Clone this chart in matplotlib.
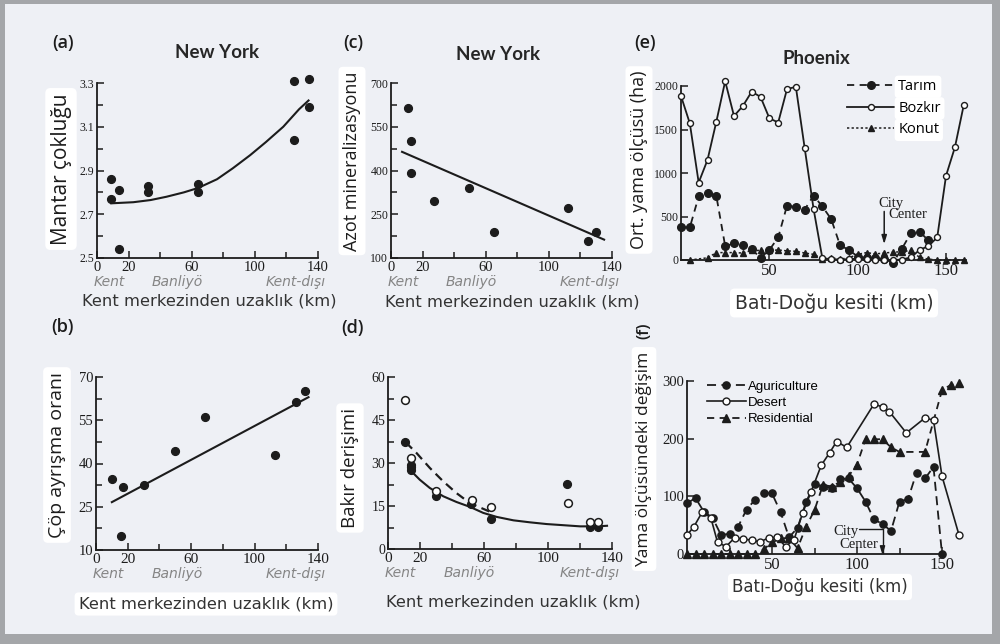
import matplotlib
matplotlib.use('Agg')
import matplotlib.pyplot as plt
from matplotlib.patches import Rectangle
from matplotlib.ticker import FixedLocator, NullFormatter

# ---------------- data ----------------
zone_labels = ['Kent', 'Banliyö', 'Kent-dışı']
zone_pos = [8, 51, 126]
dist_ticks = [0, 20, 60, 100, 140]
dist_minor = [40, 80, 120]
dist_xlabel = 'Kent merkezinden uzaklık (km)'

# (a) Mantar çokluğu
a_x = [9, 9, 14, 14, 32, 32, 64, 64, 125, 134, 134, 125]
a_y = [2.86, 2.77, 2.81, 2.54, 2.83, 2.80, 2.84, 2.80, 3.31, 3.32, 3.19, 3.04]
a_fit_x = [9, 23, 34, 44, 55, 64, 76, 86, 97, 107, 118, 128, 134]
a_fit_y = [2.75, 2.755, 2.765, 2.78, 2.80, 2.82, 2.86, 2.91, 2.97, 3.03, 3.10, 3.18, 3.22]
a_yticks = [2.5, 2.7, 2.9, 3.1, 3.3]
a_yminor = [2.6, 2.8, 3.0, 3.2]

# (b) Çöp ayrışma oranı
b_x = [10, 17, 16, 30, 50, 69, 113, 126, 132]
b_y = [34.7, 31.8, 14.9, 32.5, 44.2, 56.3, 42.9, 61.2, 65.0]
b_fit_x = [10, 134]
b_fit_y = [26.6, 63.0]
b_yticks = [10, 25, 40, 55, 70]
b_yminor = [17.5, 32.5, 47.5, 62.5]

# (c) Azot mineralizasyonu
c_x = [10.6, 12.7, 12.7, 27.5, 49.5, 65.5, 112, 124.7, 130]
c_y = [616, 502, 390, 296, 341, 189, 271, 157, 188]
c_fit_x = [7, 135]
c_fit_y = [464, 163]
c_yticks = [100, 250, 400, 550, 700]
c_yminor = [175, 325, 475, 625]

# (d) Bakır derişimi
d_x_closed = [10.4, 14.2, 14.2, 14.2, 29.9, 51.8, 64.4, 111.8, 126, 131.2]
d_y_closed = [37.2, 29.4, 28.6, 27.7, 18.6, 15.8, 10.5, 22.8, 7.6, 7.6]
d_x_open = [10.4, 14.2, 30.3, 52.2, 64.4, 112.8, 126, 131.2]
d_y_open = [52.1, 31.7, 20.3, 17.2, 14.5, 16.0, 9.3, 9.3]
d_fit_closed_x = [13.6, 19.8, 26.1, 34.5, 42.8, 51.2, 59.5, 67.9, 78.4, 88.8, 99.2, 109.7, 120.1, 130.6, 136.9]
d_fit_closed_y = [27.7, 24.2, 21.3, 18.4, 16.4, 14.7, 12.6, 11.2, 10.0, 9.3, 8.7, 8.3, 7.9, 7.9, 8.1]
d_fit_open_x = [11.1, 17.8, 26.1, 34.5, 42.8, 51.2, 63.3]
d_fit_open_y = [37.2, 33.5, 28.3, 23.6, 19.5, 16.0, 13.1]
d_yticks = [0, 15, 30, 45, 60]
d_yminor = [7.5, 22.5, 37.5, 52.5]

# (e) Phoenix - Ort. yama ölçüsü (ha)
e_tarim_x = [0, 5, 10, 15, 20, 25, 30, 35, 40, 45, 50, 55, 60, 65, 70, 75, 80, 85, 90, 95,
             100, 105, 110, 115, 120, 125, 130, 135, 140]
e_tarim_y = [375, 375, 730, 775, 735, 160, 190, 170, 125, 25, 115, 260, 625, 610, 580, 740, 615,
             470, 170, 115, 40, 25, 20, 10, -30, 130, 305, 325, 225]
e_bozkir_x = [0, 5, 10, 15, 20, 25, 30, 35, 40, 45, 50, 55, 60, 65, 70, 75, 80, 85, 90, 95,
              100, 105, 110, 115, 120, 125, 130, 135, 140, 145, 150, 155, 160]
e_bozkir_y = [1885, 1570, 890, 1150, 1590, 2055, 1655, 1770, 1935, 1875, 1630, 1580, 1965, 1990,
              1285, 590, 20, 10, 5, 10, 15, 10, 5, 0, 0, 5, 30, 115, 160, 260, 970, 1295, 1780]
e_konut_x = [5, 15, 20, 25, 30, 35, 40, 45, 50, 55, 60, 65, 70, 75, 80, 85, 90, 95, 100, 105,
             110, 115, 120, 125, 130, 135, 140, 145, 150, 155, 160]
e_konut_y = [0, 25, 85, 85, 85, 80, 110, 110, 110, 115, 105, 100, 80, 65, 15, 25, 10, 25, 65, 85,
             70, 80, 90, 95, 110, 30, 10, 0, 0, 0, 0]
e_labels = ['Tarım', 'Bozkır', 'Konut']
e_yticks = [0, 500, 1000, 1500, 2000]
e_xticks = [50, 100, 150]

# (f) Phoenix - Yama ölçüsündeki değişim
f_agri_x = [0, 5, 10, 15, 20, 25, 30, 35, 40, 45, 50, 55, 60, 65, 70, 75, 80, 85, 90, 95,
            100, 105, 110, 115, 120, 125, 130, 135, 140, 145, 150]
f_agri_y = [88, 97, 73, 63, 33, 35, 47, 77, 94, 106, 105, 73, 29, 45, 90, 121, 117, 115, 130,
            131, 114, 91, 60, 52, 40, 91, 95, 141, 131, 151, 0]
f_desert_x = [0, 4, 9, 14, 18, 23, 28, 33, 38, 43, 48, 53, 58, 63, 68, 73, 79, 84, 88, 94,
              110, 115, 119, 129, 140, 145, 150, 160]
f_desert_y = [33, 47, 73, 63, 20, 13, 28, 26, 24, 21, 28, 29, 13, 25, 71, 108, 154, 176, 195,
              185, 260, 255, 247, 210, 236, 232, 135, 33]
f_resid_x = [0, 5, 10, 15, 20, 25, 30, 35, 40, 45, 50, 55, 60, 65, 70, 75, 80, 85, 90, 95,
             100, 105, 110, 115, 120, 125, 140, 150, 155, 160]
f_resid_y = [0, 0, 0, 0, 0, 0, 0, 0, 0, 8, 20, 27, 28, 10, 47, 76, 120, 117, 125, 135, 155,
             199, 199, 199, 185, 177, 177, 284, 293, 296]
f_labels = ['Aguriculture', 'Desert', 'Residential']
f_yticks = [0, 100, 200, 300]
f_xticks = [50, 100, 150]
f_xminor = [25, 75, 125]
city_x = 115

# ---------------- figure ----------------
W, H = 1000, 644
fig = plt.figure(figsize=(W / 100, H / 100), dpi=100)
fig.patch.set_facecolor('#a4a6a9')
fig.add_artist(Rectangle((5 / W, (H - 634) / H), 987 / W, 630 / H, transform=fig.transFigure,
                         fc='#eef0f5', ec='none', zorder=-10))

INK = '#1c1c1c'
SANS = 'Open Sans'
TICKF = 'Liberation Serif'
WHITE = dict(boxstyle='round,pad=0.25', fc='white', ec='none')


def add_ax(l, r, t, b):
    ax = fig.add_axes([l / W, 1 - b / H, (r - l) / W, (b - t) / H])
    ax.set_facecolor('none')
    for s in ['top', 'right']:
        ax.spines[s].set_visible(False)
    for s in ['left', 'bottom']:
        ax.spines[s].set_linewidth(1.3)
        ax.spines[s].set_color(INK)
    ax.tick_params(which='both', direction='in', color=INK, width=1.1, pad=2)
    ax.tick_params(which='major', length=5)
    ax.tick_params(which='minor', length=4)
    return ax


def ftext(x, y, s, **kw):
    return fig.text(x / W, 1 - y / H, s, **kw)


def set_ticks(ax, xmaj, xmin, ymaj, ymin, xs, ys):
    ax.xaxis.set_major_locator(FixedLocator(xmaj))
    ax.yaxis.set_major_locator(FixedLocator(ymaj))
    if xmin:
        ax.xaxis.set_minor_locator(FixedLocator(xmin))
    if ymin:
        ax.yaxis.set_minor_locator(FixedLocator(ymin))
    ax.xaxis.set_minor_formatter(NullFormatter())
    ax.yaxis.set_minor_formatter(NullFormatter())
    for lab in ax.get_xticklabels():
        lab.set_fontfamily(TICKF)
        lab.set_fontsize(xs)
        lab.set_color(INK)
    for lab in ax.get_yticklabels():
        lab.set_fontfamily(TICKF)
        lab.set_fontsize(ys)
        lab.set_color(INK)


def zones(ax):
    for lab, p in zip(zone_labels, zone_pos):
        ax.annotate(lab, xy=(p, 0), xycoords=('data', 'axes fraction'), xytext=(0, -17.3),
                    textcoords='offset points', ha='center', va='center', style='italic',
                    color='#858585', fontsize=10, family='DejaVu Sans')


dot = dict(marker='o', ms=5.6, color=INK, ls='none', clip_on=False)

# (a)
ax = add_ax(97, 318, 83, 258)
ax.set_xlim(0, 140)
ax.set_ylim(2.5, 3.3)
ax.plot(a_x, a_y, **dot)
ax.plot(a_fit_x, a_fit_y, color=INK, lw=1.5)
set_ticks(ax, dist_ticks, dist_minor, a_yticks, a_yminor, 10.5, 8.5)
ax.set_yticklabels([f'{v:.1f}' for v in a_yticks])
for lab in ax.get_yticklabels():
    lab.set_fontfamily(TICKF)
    lab.set_fontsize(8.5)
zones(ax)

# (c)
ax = add_ax(391, 612, 83, 258)
ax.set_xlim(0, 140)
ax.set_ylim(100, 700)
ax.plot(c_x, c_y, **dot)
ax.plot(c_fit_x, c_fit_y, color=INK, lw=1.5)
set_ticks(ax, dist_ticks, dist_minor, c_yticks, c_yminor, 10.5, 8.5)
zones(ax)

# (b)
ax = add_ax(96, 318, 377, 550)
ax.set_xlim(0, 140)
ax.set_ylim(10, 70)
ax.plot(b_x, b_y, **dot)
ax.plot(b_fit_x, b_fit_y, color=INK, lw=1.5)
set_ticks(ax, dist_ticks, dist_minor, b_yticks, b_yminor, 11, 10.5)
zones(ax)

# (d)
ax = add_ax(388, 612, 377, 549)
ax.set_xlim(0, 140)
ax.set_ylim(0, 60)
ax.plot(d_fit_closed_x, d_fit_closed_y, color=INK, lw=1.5)
ax.plot(d_fit_open_x, d_fit_open_y, color=INK, lw=1.6, ls=(0, (4, 2.5)))
ax.plot(d_x_closed, d_y_closed, **dot)
ax.plot(d_x_open, d_y_open, marker='o', ms=5.6, mfc='white', mec=INK, mew=1.1, ls='none')
set_ticks(ax, dist_ticks, dist_minor, d_yticks, d_yminor, 11, 10)
zones(ax)

# (e)
ax = add_ax(681, 965.5, 86, 260)
ax.set_xlim(0, 161)
ax.set_ylim(0, 2000)
l1, = ax.plot(e_tarim_x, e_tarim_y, color=INK, lw=1.3, ls=(0, (4, 3)), marker='o', ms=5.5,
              clip_on=False, label=e_labels[0])
l2, = ax.plot(e_bozkir_x, e_bozkir_y, color=INK, lw=1.3, marker='o', ms=4.3, mfc='white',
              mew=1.0, clip_on=False, label=e_labels[1], zorder=3)
l3, = ax.plot(e_konut_x, e_konut_y, color=INK, lw=1.1, ls=(0, (1.5, 1.5)), marker='^', ms=5,
              clip_on=False, label=e_labels[2])
set_ticks(ax, e_xticks, None, e_yticks, None, 12, 8.5)
leg = ax.legend(handles=[l1, l2, l3], loc='upper left', bbox_to_anchor=(840 / W, 1 - 72 / H),
                bbox_transform=fig.transFigure, frameon=False, handlelength=3.2, handletextpad=0.3,
                labelspacing=0.45, borderpad=0, numpoints=1, prop=dict(family=SANS, size=10.5))
for t in leg.get_texts():
    t.set_bbox(WHITE)
ax.annotate('', xy=(city_x, 150), xytext=(city_x, 590),
            arrowprops=dict(arrowstyle='-|>,head_length=0.5,head_width=0.15', color=INK, lw=1.1))
ftext(891, 203, 'City', ha='center', va='center', family=TICKF, fontsize=10.5, color=INK)
ftext(908, 215, 'Center', ha='center', va='center', family=TICKF, fontsize=10.5, color=INK)

# (f)
ax = add_ax(687, 942, 381, 554)
ax.set_xlim(0, 150)
ax.set_ylim(0, 300)
m1, = ax.plot(f_agri_x, f_agri_y, color=INK, lw=1.3, ls=(0, (5, 3)), marker='o', ms=5.2,
              clip_on=False, label=f_labels[0])
m2, = ax.plot(f_desert_x, f_desert_y, color=INK, lw=1.2, marker='o', ms=5, mfc='white', mew=1.0,
              clip_on=False, label=f_labels[1], zorder=3)
m3, = ax.plot(f_resid_x, f_resid_y, color=INK, lw=1.3, ls=(0, (4, 3)), marker='^', ms=5.5,
              clip_on=False, label=f_labels[2])
set_ticks(ax, f_xticks, f_xminor, f_yticks, None, 12, 10.5)
ax.legend(handles=[m1, m2, m3], loc='upper left', bbox_to_anchor=(700 / W, 1 - 374 / H),
          bbox_transform=fig.transFigure, frameon=False, handlelength=3.0, handletextpad=0.1,
          labelspacing=0.3, borderpad=0, numpoints=1, prop=dict(family='Liberation Sans', size=9.5))
ax.annotate('', xy=(city_x, -2), xytext=(101, 43),
            arrowprops=dict(arrowstyle='-|>,head_length=0.5,head_width=0.15', color=INK, lw=1.0,
                            connectionstyle='angle,angleA=0,angleB=90,rad=0', shrinkA=0, shrinkB=0),
            annotation_clip=False)
ftext(846, 531, 'City', ha='center', va='center', family=TICKF, fontsize=10.5, color=INK)
ftext(859, 544, 'Center', ha='center', va='center', family=TICKF, fontsize=10.5, color=INK)

# ---------------- texts ----------------
for x, y, s in [(63, 43, '(a)'), (353, 43, '(c)'), (645, 43, '(e)'), (62, 327, '(b)'), (352, 328, '(d)')]:
    ftext(x, y, s, ha='center', va='center', family=SANS, fontsize=13, weight='semibold', color=INK)
ftext(644, 331, '(f)', ha='center', va='center', family=SANS, fontsize=12, weight='semibold',
      color=INK, rotation=90)

for x, y, s in [(217, 52, 'New York'), (498, 54, 'New York'), (816, 58, 'Phoenix')]:
    ftext(x, y, s, ha='center', va='center', family='Lato', fontsize=13.5, weight='bold', color='#262626')

ylabs = [(61, 169, 'Mantar çokluğu', 15), (57, 455, 'Çöp ayrışma oranı', 14),
         (352, 161, 'Azot mineralizasyonu', 13), (350, 468, 'Bakır derişimi', 13.5),
         (639, 160, 'Ort. yama ölçüsü (ha)', 13), (644, 459, 'Yama ölçüsündeki değişim', 12.5)]
for x, y, s, fs in ylabs:
    ftext(x, y, s, ha='center', va='center', rotation=90, family=SANS, fontsize=fs,
          weight='medium', color=INK, bbox=WHITE)

xlabs = [(209, 301, dist_xlabel, 11.8, None), (512, 302, dist_xlabel, 11.8, None),
         (206, 604, dist_xlabel, 11.8, WHITE), (513, 602, dist_xlabel, 11.8, None),
         (834, 303, 'Batı-Doğu kesiti (km)', 13.5, WHITE), (820, 587, 'Batı-Doğu kesiti (km)', 12, WHITE)]
for x, y, s, fs, bb in xlabs:
    ftext(x, y, s, ha='center', va='center', family='DejaVu Sans', fontsize=fs, color='#333333', bbox=bb)

fig.savefig('out.png', dpi=100, facecolor=fig.get_facecolor())
